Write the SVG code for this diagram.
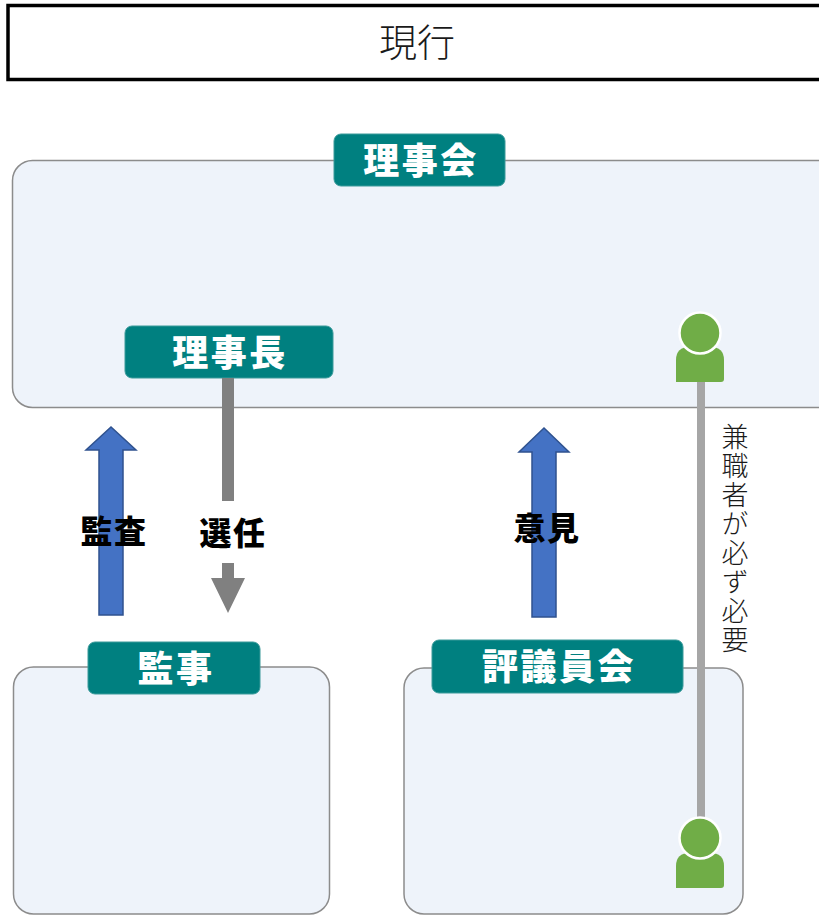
<svg xmlns="http://www.w3.org/2000/svg" width="819" height="915" viewBox="0 0 819 915">
<style>
.box{fill:#EEF3FA;stroke:#8C8C8C;stroke-width:1.5}
.lab{fill:#008080;stroke:#3A9A9A;stroke-width:1}
.labt{fill:#FFFFFF;font-family:"Noto Sans CJK JP","Noto Sans CJK SC",sans-serif;font-weight:900;font-size:36px;letter-spacing:2.5px;text-anchor:middle}
.edt{fill:#000000;font-family:"Noto Sans CJK JP","Noto Sans CJK SC",sans-serif;font-weight:900;font-size:32px;letter-spacing:1.5px;text-anchor:middle}
.blue{fill:#4472C4;stroke:#2F528F;stroke-width:1.5}
.person{fill:#70AD47}
.head{fill:#70AD47;stroke:#FFFFFF;stroke-width:2.5}
.thin{font-family:"Noto Sans CJK JP","Noto Sans CJK SC",sans-serif;font-weight:300;fill:#1A1A1A}
</style>
<rect x="0" y="0" width="819" height="915" fill="#FFFFFF"/>
<g id="title">
<rect x="8" y="5.5" width="830" height="74" fill="#FFFFFF" stroke="#000000" stroke-width="3.5"/>
<text class="thin" x="417" y="56" font-size="38" text-anchor="middle">現行</text>
</g>
<g id="rijikai">
<rect class="box" x="12.5" y="160.5" width="830" height="247" rx="20" ry="20"/>
<rect class="lab" x="334" y="134" width="171" height="52" rx="7" ry="7"/>
<text class="labt" x="421" y="174">理事会</text>
</g>
<g id="rijicho">
<rect class="lab" x="125" y="326" width="208" height="52" rx="7" ry="7"/>
<text class="labt" x="230" y="366">理事長</text>
</g>
<g id="kanji">
<rect class="box" x="13.5" y="667" width="316" height="247" rx="20" ry="20"/>
<rect class="lab" x="88" y="642" width="172" height="52" rx="7" ry="7"/>
<text class="labt" x="176" y="682">監事</text>
</g>
<g id="hyogiinkai">
<rect class="box" x="404" y="668" width="339" height="246" rx="20" ry="20"/>
<rect class="lab" x="432" y="640" width="251" height="53" rx="7" ry="7"/>
<text class="labt" x="559" y="680">評議員会</text>
</g>
<g id="connectors">
<path class="blue" d="M99,615 L99,450 L86,450 L111,427 L136,450 L123,450 L123,615 Z"/>
<text class="edt" x="114" y="543">監査</text>
<rect x="222" y="378" width="12" height="123" fill="#808080"/>
<path d="M222,563 L234,563 L234,578 L245,578 L228,613 L211,578 L222,578 Z" fill="#808080"/>
<text class="edt" x="233" y="545">選任</text>
<path class="blue" d="M532,617 L532,452 L519,452 L544,428 L569,452 L556,452 L556,617 Z"/>
<text class="edt" x="547" y="540">意見</text>
<rect x="697" y="380" width="8" height="440" fill="#A6A6A6"/>
<text class="thin" x="735" y="423" font-size="27" letter-spacing="2" style="writing-mode:vertical-rl">兼職者が必ず必要</text>
</g>
<g id="person-top">
<path class="person" d="M676,382 L676,360 Q676,347 690,347 L710,347 Q724,347 724,360 L724,379 Q724,382 721,382 L679,382 Q676,382 676,382 Z"/>
<circle class="head" cx="700" cy="333" r="20.5"/>
</g>
<g id="person-bottom">
<path class="person" d="M676,888 L676,866 Q676,853 690,853 L710,853 Q724,853 724,866 L724,885 Q724,888 721,888 L679,888 Q676,888 676,888 Z"/>
<circle class="head" cx="700" cy="838" r="20.5"/>
</g>
</svg>
